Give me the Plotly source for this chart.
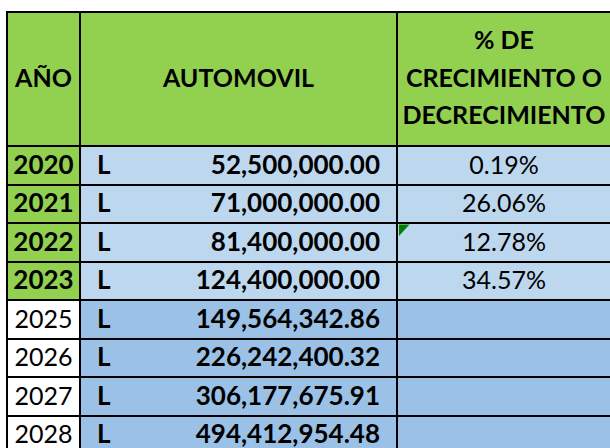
import plotly.graph_objects as go

# ---- data ----
years = [2020, 2021, 2022, 2023, 2025, 2026, 2027, 2028]
currency = "L"
amounts = [52500000.00, 71000000.00, 81400000.00, 124400000.00,
           149564342.86, 226242400.32, 306177675.91, 494412954.48]
growth_pct = [0.19, 26.06, 12.78, 34.57, None, None, None, None]
header_year = "AÑO"
header_amount = "AUTOMOVIL"
header_growth = ["% DE", "CRECIMIENTO O", "DECRECIMIENTO"]
last_actual_year = 2023
flagged_row = 2  # Excel error-indicator triangle on the 2022 growth cell

# ---- layout constants (pixels) ----
FIG_W, FIG_H = 620, 460
LEFT, TOP = 7, 12
COL_W = [73, 317, 223]
HEADER_H = 134
ROW_H = 38.5
GREEN = "#92D050"
LIGHT_BLUE = "#BDD7EE"
BLUE = "#9BC2E6"
WHITE = "#FFFFFF"
FONT = "Lato"
FS_B = 26
FS_R = 25
FS_H = 25
PAD = 17
TEXT_DY = 2       # Excel bottom-aligned text sits slightly below row middle
HDR_LINE = 37.5   # header line spacing
PCT_X = 504

n = len(years)
hist = [y <= last_actual_year for y in years]

x_edges = [LEFT]
for w in COL_W:
    x_edges.append(x_edges[-1] + w)
y_edges = [TOP, TOP + HEADER_H] + [TOP + HEADER_H + ROW_H * (i + 1) for i in range(n)]
row_y = [(y_edges[i + 1] + y_edges[i + 2]) / 2 + TEXT_DY for i in range(n)]

# ---- fills via heatmap (0 white, 1 green, 2 light blue, 3 blue) ----
z = [[1, 1, 1]]
for h in hist:
    z.append([1 if h else 0, 2 if h else 3, 2 if h else 3])
colorscale = [[0, WHITE], [0.25, WHITE], [0.25, GREEN], [0.5, GREEN],
              [0.5, LIGHT_BLUE], [0.75, LIGHT_BLUE], [0.75, BLUE], [1, BLUE]]

fig = go.Figure()
fig.add_trace(go.Heatmap(
    x=x_edges, y=y_edges, z=z, zmin=-0.5, zmax=3.5,
    colorscale=colorscale, showscale=False, hoverinfo="skip",
))

# error indicator triangle
cx, cy = x_edges[2], y_edges[flagged_row + 1]
fig.add_trace(go.Scatter(
    x=[cx + 2, cx + 12.5, cx + 2, cx + 2], y=[cy + 1.5, cy + 1.5, cy + 13, cy + 1.5],
    mode="lines", fill="toself", fillcolor="#008000", line=dict(width=0),
    hoverinfo="skip",
))

# ---- text ----
font_b = dict(family=FONT, size=FS_B, color="black")
font_r = dict(family=FONT, size=FS_R, color="black")
font_h = dict(family=FONT, size=FS_H, color="black")
fig.add_trace(go.Scatter(
    x=[(x_edges[0] + x_edges[1]) / 2] * n, y=row_y, mode="text",
    text=[f"<b>{y}</b>" if h else f"{y}" for y, h in zip(years, hist)],
    textposition="middle center",
    textfont=dict(family=FONT, size=[FS_B if h else FS_R for h in hist], color="black"),
    hoverinfo="skip",
))
fig.add_trace(go.Scatter(
    x=[x_edges[1] + PAD] * n, y=row_y, mode="text",
    text=[f"<b>{currency}</b>"] * n,
    textposition="middle right", textfont=font_b, hoverinfo="skip",
))
fig.add_trace(go.Scatter(
    x=[x_edges[2] - PAD] * n, y=row_y, mode="text",
    text=[f"<b>{a:,.2f}</b>" for a in amounts],
    textposition="middle left", textfont=font_b, hoverinfo="skip",
))
fig.add_trace(go.Scatter(
    x=[PCT_X] * n, y=row_y, mode="text",
    text=[f"{g:.2f}%" if g is not None else "" for g in growth_pct],
    textposition="middle center", textfont=font_r, hoverinfo="skip",
))
hdr_mid = (y_edges[0] + y_edges[1]) / 2 + 1.5
fig.add_trace(go.Scatter(
    x=[(x_edges[0] + x_edges[1]) / 2, (x_edges[1] + x_edges[2]) / 2, PCT_X, PCT_X, PCT_X],
    y=[hdr_mid, hdr_mid, hdr_mid - HDR_LINE, hdr_mid, hdr_mid + HDR_LINE],
    mode="text",
    text=[f"<b>{t}</b>" for t in [header_year, header_amount] + header_growth],
    textposition="middle center", textfont=font_h, hoverinfo="skip",
))

# ---- borders via transparent table ----
clear = "rgba(0,0,0,0)"
fig.add_trace(go.Table(
    domain=dict(x=[LEFT / FIG_W, 1], y=[0, 1 - TOP / FIG_H]),
    columnwidth=COL_W,
    header=dict(values=["", "", ""], fill_color=clear,
                line=dict(color="black", width=2), height=HEADER_H),
    cells=dict(values=[[""] * n] * 3, fill_color=clear,
               line=dict(color="black", width=2), height=ROW_H),
))

fig.update_layout(
    width=FIG_W, height=FIG_H,
    margin=dict(l=0, r=0, t=0, b=0),
    paper_bgcolor="white", plot_bgcolor="white",
    showlegend=False,
    xaxis=dict(range=[0, FIG_W], visible=False, fixedrange=True),
    yaxis=dict(range=[FIG_H, 0], visible=False, fixedrange=True),
)
fig.write_html(
    "out.html",
    config={"displayModeBar": False},
    post_script="document.body.style.margin='0';"
                "document.body.style.overflow='hidden';"
                "document.documentElement.style.overflow='hidden';",
)
